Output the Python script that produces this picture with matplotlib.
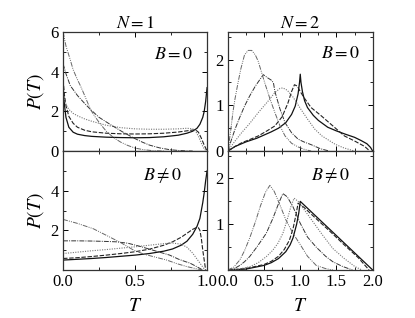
import matplotlib
matplotlib.use('Agg')
import matplotlib.pyplot as plt
from matplotlib.ticker import MultipleLocator, FixedLocator

plt.rcParams['font.family'] = ['Liberation Serif', 'DejaVu Serif']
plt.rcParams['mathtext.fontset'] = 'stix'
plt.rcParams['font.size'] = 10

# ---- N = 1, B = 0 ----
t_a = [0.0, 0.01, 0.02, 0.04, 0.07, 0.1, 0.15, 0.2, 0.3, 0.4, 0.5, 0.6, 0.7, 0.8, 0.86, 0.9, 0.93, 0.95, 0.97, 0.98, 0.99, 1.0]
a_solid = [3.2, 2.3, 1.7, 1.2, 0.95, 0.85, 0.78, 0.74, 0.7, 0.68, 0.67, 0.68, 0.72, 0.8, 0.9, 1.0, 1.15, 1.35, 1.7, 2.0, 2.5, 3.2]
t_a2 = [0.0, 0.01, 0.02, 0.04, 0.07, 0.1, 0.15, 0.2, 0.3, 0.4, 0.5, 0.6, 0.7, 0.8, 0.86, 0.9, 0.92, 0.94, 0.96, 0.98, 1.0]
a_dash = [3.6, 2.8, 2.3, 1.75, 1.4, 1.2, 1.05, 0.97, 0.9, 0.87, 0.86, 0.87, 0.9, 0.96, 1.02, 1.06, 1.07, 0.95, 0.65, 0.3, 0.0]
a_dot = [3.0, 2.6, 2.35, 2.1, 1.9, 1.78, 1.62, 1.5, 1.3, 1.18, 1.12, 1.1, 1.1, 1.12, 1.15, 1.12, 1.0, 0.75, 0.4, 0.1, 0.0]
t_b = [0.0, 0.02, 0.05, 0.1, 0.15, 0.19, 0.25, 0.33, 0.41, 0.49, 0.55, 0.6, 0.67, 0.74, 0.8, 0.85, 0.9]
a_dd = [4.4, 3.9, 3.3, 2.8, 2.4, 2.1, 1.7, 1.33, 0.98, 0.66, 0.45, 0.3, 0.16, 0.07, 0.03, 0.01, 0.0]
t_c = [0.0, 0.02, 0.05, 0.07, 0.1, 0.12, 0.15, 0.19, 0.22, 0.26, 0.3, 0.35, 0.4, 0.45, 0.5, 0.55, 0.62, 0.7]
a_ddd = [6.0, 5.3, 4.6, 4.1, 3.6, 3.3, 2.8, 2.1, 1.75, 1.35, 1.0, 0.68, 0.45, 0.28, 0.15, 0.08, 0.02, 0.0]

# ---- N = 1, B != 0 ----
t_d = [0.0, 0.1, 0.2, 0.3, 0.4, 0.5, 0.6, 0.7, 0.76, 0.82, 0.86, 0.9, 0.93, 0.95, 0.97, 0.98, 0.99, 1.0]
d_solid = [0.5, 0.54, 0.58, 0.63, 0.69, 0.75, 0.83, 0.95, 1.06, 1.25, 1.45, 1.8, 2.2, 2.6, 3.4, 3.9, 4.5, 5.0]
t_d2 = [0.0, 0.1, 0.2, 0.3, 0.4, 0.5, 0.6, 0.7, 0.76, 0.82, 0.86, 0.9, 0.92, 0.94, 0.95, 0.96, 0.97, 0.98, 0.99]
d_dash = [0.58, 0.62, 0.68, 0.75, 0.83, 0.92, 1.05, 1.25, 1.42, 1.65, 1.85, 2.05, 2.12, 2.13, 2.0, 1.6, 1.0, 0.5, 0.0]
d_dot = [0.83, 0.9, 0.97, 1.03, 1.1, 1.17, 1.25, 1.33, 1.36, 1.3, 1.15, 0.85, 0.65, 0.45, 0.35, 0.25, 0.15, 0.05, 0.0]
t_e = [0.0, 0.1, 0.2, 0.3, 0.37, 0.45, 0.52, 0.6, 0.67, 0.74, 0.8, 0.85, 0.88, 0.92, 0.95, 0.97]
d_dd = [1.47, 1.47, 1.46, 1.44, 1.42, 1.35, 1.22, 1.05, 0.9, 0.75, 0.55, 0.42, 0.35, 0.2, 0.08, 0.0]
t_f = [0.0, 0.1, 0.21, 0.3, 0.4, 0.49, 0.56, 0.64, 0.72, 0.79, 0.86, 0.92, 0.97]
d_ddd = [2.55, 2.35, 2.08, 1.75, 1.38, 1.0, 0.8, 0.65, 0.5, 0.32, 0.17, 0.07, 0.0]

# ---- N = 2, B = 0 ----
g_solid_t = [0.0, 0.1, 0.25, 0.4, 0.5, 0.6, 0.7, 0.8, 0.88, 0.93, 0.97, 0.99, 1.0, 1.01, 1.03, 1.06, 1.1, 1.18, 1.25, 1.38, 1.5, 1.62, 1.75, 1.84, 1.92, 1.97, 2.0]
g_solid = [0.0, 0.1, 0.2, 0.28, 0.35, 0.42, 0.5, 0.62, 0.8, 0.98, 1.25, 1.5, 1.68, 1.5, 1.3, 1.1, 0.95, 0.78, 0.67, 0.52, 0.44, 0.37, 0.3, 0.23, 0.16, 0.08, 0.0]
g_dash_t = [0.0, 0.1, 0.19, 0.3, 0.42, 0.55, 0.65, 0.75, 0.83, 0.88, 0.92, 0.96, 1.0, 1.06, 1.15, 1.29, 1.45, 1.61, 1.75, 1.89, 1.96]
g_dash = [0.0, 0.1, 0.18, 0.25, 0.33, 0.45, 0.55, 0.75, 1.05, 1.3, 1.45, 1.42, 1.3, 1.15, 0.95, 0.77, 0.55, 0.33, 0.22, 0.1, 0.0]
g_dot_t = [0.0, 0.1, 0.19, 0.3, 0.42, 0.55, 0.65, 0.72, 0.76, 0.82, 0.9, 1.01, 1.1, 1.2, 1.3, 1.48, 1.6, 1.75]
g_dot = [0.0, 0.22, 0.4, 0.6, 0.84, 1.08, 1.28, 1.37, 1.38, 1.33, 1.18, 0.91, 0.7, 0.48, 0.33, 0.15, 0.07, 0.0]
g_dd_t = [0.0, 0.05, 0.1, 0.16, 0.23, 0.3, 0.38, 0.45, 0.49, 0.55, 0.6, 0.63, 0.65, 0.72, 0.79, 0.88, 0.97, 1.05, 1.15, 1.28, 1.4]
g_dd = [0.0, 0.25, 0.48, 0.72, 0.98, 1.2, 1.42, 1.58, 1.67, 1.6, 1.55, 1.49, 1.3, 0.92, 0.62, 0.4, 0.26, 0.2, 0.14, 0.05, 0.0]
g_ddd_t = [0.0, 0.04, 0.07, 0.1, 0.14, 0.18, 0.23, 0.28, 0.33, 0.38, 0.42, 0.46, 0.51, 0.58, 0.65, 0.72, 0.79, 0.88, 0.97, 1.05, 1.15]
g_ddd = [0.0, 0.45, 0.85, 1.15, 1.49, 1.8, 2.1, 2.2, 2.2, 2.1, 1.96, 1.75, 1.49, 1.15, 0.84, 0.55, 0.33, 0.17, 0.09, 0.04, 0.0]

# ---- N = 2, B != 0 ----
h_solid_t = [0.0, 0.25, 0.5, 0.6, 0.7, 0.8, 0.86, 0.9, 0.95, 0.98, 1.0, 2.0]
h_solid = [0.0, 0.02, 0.1, 0.16, 0.25, 0.4, 0.55, 0.7, 1.0, 1.25, 1.5, 0.0]
h_dash_t = [0.0, 0.25, 0.5, 0.6, 0.7, 0.78, 0.85, 0.9, 0.94, 0.97, 1.05, 1.2, 1.4, 1.6, 1.8, 1.95]
h_dash = [0.0, 0.03, 0.12, 0.19, 0.3, 0.45, 0.65, 0.9, 1.2, 1.46, 1.37, 1.15, 0.86, 0.56, 0.27, 0.0]
h_dot_t = [0.0, 0.15, 0.3, 0.42, 0.53, 0.62, 0.69, 0.76, 0.82, 0.87, 0.915, 0.97, 1.1, 1.3, 1.45, 1.6, 1.75, 1.85]
h_dot = [0.0, 0.02, 0.07, 0.16, 0.29, 0.43, 0.58, 0.8, 1.1, 1.38, 1.57, 1.5, 1.22, 0.78, 0.47, 0.26, 0.08, 0.0]
h_dd_t = [0.0, 0.1, 0.166, 0.23, 0.3, 0.4, 0.53, 0.62, 0.7, 0.76, 0.82, 0.9, 1.0, 1.1, 1.22, 1.35, 1.45, 1.58, 1.72]
h_dd = [0.0, 0.04, 0.1, 0.18, 0.29, 0.5, 0.8, 1.12, 1.45, 1.67, 1.6, 1.38, 1.02, 0.72, 0.5, 0.3, 0.18, 0.08, 0.0]
h_ddd_t = [0.0, 0.08, 0.166, 0.23, 0.3, 0.38, 0.45, 0.52, 0.58, 0.64, 0.72, 0.8, 0.9, 0.99, 1.1, 1.22, 1.35, 1.45]
h_ddd = [0.0, 0.06, 0.22, 0.42, 0.69, 1.05, 1.4, 1.7, 1.85, 1.72, 1.42, 1.1, 0.8, 0.58, 0.3, 0.1, 0.03, 0.0]

st_solid = dict(color='#111111', lw=0.9, ls='-')
st_dash = dict(color='#222222', lw=0.8, ls=(0, (4, 1.5)))
st_dot = dict(color='#777777', lw=0.8, ls=(0, (1, 1.2)))
st_dd = dict(color='#333333', lw=0.7, ls=(0, (5, 1.2, 1, 1.2)))
st_ddd = dict(color='#666666', lw=0.7, ls=(0, (5, 1.2, 1, 1.2, 1, 1.2)))

fig = plt.figure(figsize=(4.15, 3.18), dpi=100)
ax1 = fig.add_axes([0.152, 0.525, 0.347, 0.374])
ax2 = fig.add_axes([0.549, 0.525, 0.349, 0.374])
ax3 = fig.add_axes([0.152, 0.151, 0.347, 0.374])
ax4 = fig.add_axes([0.549, 0.151, 0.349, 0.374])

ax1.plot(t_a, a_solid, **st_solid)
ax1.plot(t_a2, a_dash, **st_dash)
ax1.plot(t_a2, a_dot, **st_dot)
ax1.plot(t_b, a_dd, **st_dd)
ax1.plot(t_c, a_ddd, **st_ddd)

ax3.plot(t_d, d_solid, **st_solid)
ax3.plot(t_d2, d_dash, **st_dash)
ax3.plot(t_d2, d_dot, **st_dot)
ax3.plot(t_e, d_dd, **st_dd)
ax3.plot(t_f, d_ddd, **st_ddd)

ax2.plot(g_solid_t, g_solid, **st_solid)
ax2.plot(g_dash_t, g_dash, **st_dash)
ax2.plot(g_dot_t, g_dot, **st_dot)
ax2.plot(g_dd_t, g_dd, **st_dd)
ax2.plot(g_ddd_t, g_ddd, **st_ddd)

ax4.plot(h_solid_t, h_solid, **st_solid)
ax4.plot(h_dash_t, h_dash, **st_dash)
ax4.plot(h_dot_t, h_dot, **st_dot)
ax4.plot(h_dd_t, h_dd, **st_dd)
ax4.plot(h_ddd_t, h_ddd, **st_ddd)

for ax in (ax1, ax3):
    ax.set_xlim(0, 1)
    ax.set_ylim(0, 6)
    ax.xaxis.set_major_locator(MultipleLocator(0.5))
    ax.xaxis.set_minor_locator(MultipleLocator(0.25))
    ax.yaxis.set_minor_locator(MultipleLocator(1))
    ax.set_ylabel(r'$P(T)$', fontsize=14, labelpad=3)
for ax in (ax2, ax4):
    ax.set_xlim(0, 2)
    ax.set_ylim(0, 2.6)
    ax.xaxis.set_major_locator(MultipleLocator(0.5))
    ax.xaxis.set_minor_locator(MultipleLocator(0.25))
    ax.yaxis.set_major_locator(MultipleLocator(1))
    ax.yaxis.set_minor_locator(MultipleLocator(0.5))

ax1.yaxis.set_major_locator(FixedLocator([0, 2, 4, 6]))
ax3.yaxis.set_major_locator(FixedLocator([2, 4]))
ax4.yaxis.set_major_locator(FixedLocator([1, 2]))

for ax in (ax1, ax2):
    ax.tick_params(labelbottom=False)
for ax in (ax3, ax4):
    ax.set_xlabel(r'$T$', fontsize=14, labelpad=6)
ax3.set_xticks([0, 0.5, 1.0])
ax3.set_xticklabels(['0.0', '0.5', '1.0'])
ax4.set_xticks([0, 0.5, 1.0, 1.5, 2.0])
ax4.set_xticklabels(['0.0', '0.5', '1.0', '1.5', '2.0'])

for ax in (ax1, ax2, ax3, ax4):
    ax.tick_params(which='both', direction='in', top=True, right=True, labelsize=12, pad=3)
    ax.tick_params(which='major', length=3.5, width=0.7)
    ax.tick_params(which='minor', length=2, width=0.6)
    for s in ax.spines.values():
        s.set_linewidth(0.9)
        s.set_color('#333333')

ax1.set_title(r'$N = 1$', fontsize=13, pad=1)
ax2.set_title(r'$N = 2$', fontsize=13, pad=1)
ax1.text(0.77, 0.81, r'$B = 0$', transform=ax1.transAxes, ha='center', va='center', fontsize=13)
ax2.text(0.78, 0.82, r'$B = 0$', transform=ax2.transAxes, ha='center', va='center', fontsize=13)
ax3.text(0.69, 0.79, r'$B \neq 0$', transform=ax3.transAxes, ha='center', va='center', fontsize=13)
ax4.text(0.71, 0.79, r'$B \neq 0$', transform=ax4.transAxes, ha='center', va='center', fontsize=13)

fig.savefig('out.png', dpi=100)
